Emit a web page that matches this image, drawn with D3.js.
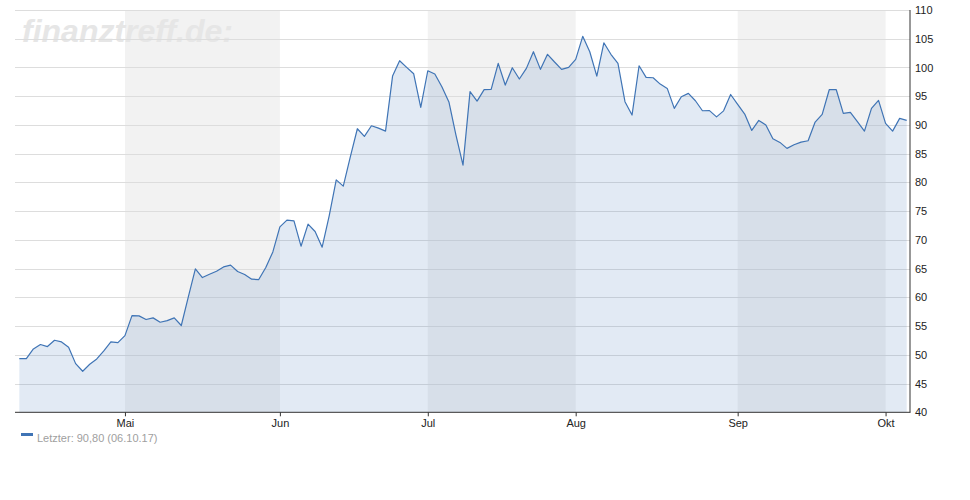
<!DOCTYPE html>
<html>
<head>
<meta charset="utf-8">
<script src="https://cdn.jsdelivr.net/npm/d3@7"></script>
<style>
  html, body { margin: 0; padding: 0; background: #fff; }
  svg { display: block; font-family: Arial, "Liberation Sans", sans-serif; }
</style>
</head>
<body>
<svg id="chart" width="970" height="500"></svg>
<script>
// ---- data ----
const startDate = "2017-04-06";
const endDate = "2017-10-06";
const holidays = ["2017-04-14", "2017-04-17", "2017-05-01", "2017-06-05", "2017-10-03"];
const monthNames = ["Jan","Feb","Mär","Apr","Mai","Jun","Jul","Aug","Sep","Okt","Nov","Dez"];
const yTicks = [40,45,50,55,60,65,70,75,80,85,90,95,100,105,110];
const values = [
  49.35, 49.35, 51.03, 51.8, 51.44, 52.54, 52.25, 51.32, 48.47, 47.14,
  48.36, 49.28, 50.68, 52.25, 52.13, 53.35, 56.83, 56.78, 56.14, 56.43,
  55.67, 55.96, 56.43, 55.1, 60.07, 64.96, 63.45, 64.03, 64.55, 65.3,
  65.6, 64.49, 63.98, 63.16, 63.1, 65.2, 67.9, 72.27, 73.43, 73.32,
  68.9, 72.74, 71.46, 68.73, 74.18, 80.45, 79.35, 84.46, 89.34, 88.0,
  89.86, 89.45, 88.93, 98.5, 101.17, 100.02, 98.9, 93.05, 99.43, 98.86,
  96.65, 94.0, 88.23, 83.01, 95.8, 94.15, 96.15, 96.19, 100.72, 96.94,
  99.96, 97.99, 99.84, 102.74, 99.67, 102.29, 100.95, 99.67, 100.02, 101.41,
  105.42, 102.74, 98.5, 104.3, 102.29, 100.72, 94.04, 91.72, 100.3, 98.27,
  98.21, 97.11, 96.36, 92.88, 94.9, 95.49, 94.21, 92.47, 92.5, 91.4,
  92.45, 95.3, 93.58, 91.89, 89.05, 90.79, 89.98, 87.6, 86.96, 85.92,
  86.55, 87.02, 87.25, 90.5, 91.84, 96.13, 96.13, 92.0, 92.19, 90.56,
  88.93, 92.88, 94.28, 90.27, 88.93, 91.14, 90.80
];
const lastLabel = "Letzter: 90,80 (06.10.17)";
const logoText = "finanztreff.de:";

// trading days (weekdays minus exchange holidays)
const fmt = d3.utcFormat("%Y-%m-%d");
const dates = d3.utcDays(new Date(startDate), d3.utcDay.offset(new Date(endDate), 1))
  .filter(d => d.getUTCDay() !== 0 && d.getUTCDay() !== 6 && !holidays.includes(fmt(d)));

// ---- layout ----
const svg = d3.select("#chart");
const plot = { left: 15, right: 910, top: 10, bottom: 412.3 };

const x = d3.scaleLinear().domain([0, values.length - 1]).range([19.3, 906.7]);
const y = d3.scaleLinear().domain([40, 110]).range([plot.bottom, plot.top]);

// month starts (first trading day of each month, after the first point)
const monthStarts = [];
dates.forEach((d, i) => {
  if (i > 0 && d.getUTCMonth() !== dates[i - 1].getUTCMonth()) monthStarts.push({ i, m: d.getUTCMonth() });
});

// alternating month bands
monthStarts.forEach((ms, k) => {
  if (ms.m % 2 === 0) {
    const next = monthStarts[k + 1];
    const x0 = x(ms.i);
    const x1 = next ? x(next.i) : plot.right;
    svg.append("rect")
      .attr("x", x0).attr("y", plot.top)
      .attr("width", x1 - x0).attr("height", plot.bottom - plot.top)
      .attr("fill", "#f2f2f2");
  }
});

// watermark logo
svg.append("text")
  .attr("x", 22).attr("y", 42)
  .attr("font-size", 32).attr("font-weight", "bold").attr("font-style", "italic")
  .attr("fill", "#e6e6e6")
  .text(logoText);

// horizontal grid
svg.append("g").selectAll("line")
  .data(yTicks.filter(t => t > 40))
  .join("line")
  .attr("x1", plot.left).attr("x2", plot.right)
  .attr("y1", d => Math.round(y(d)) + 0.5).attr("y2", d => Math.round(y(d)) + 0.5)
  .attr("stroke", "#dddddd").attr("stroke-width", 1);

// area + line
const area = d3.area().x((d, i) => x(i)).y0(y(40)).y1(d => y(d));
const line = d3.line().x((d, i) => x(i)).y(d => y(d));
svg.append("path").datum(values).attr("d", area)
  .attr("fill", "rgba(61,115,180,0.15)");
svg.append("path").datum(values).attr("d", line)
  .attr("fill", "none").attr("stroke", "#3f74b5").attr("stroke-width", 1.2)
  .attr("stroke-linejoin", "round");

// y axis (right)
const yAxis = d3.axisRight(y).tickValues(yTicks).tickSize(0).tickPadding(5).tickFormat(d3.format("d"));
const gy = svg.append("g").attr("transform", `translate(${plot.right},0)`).call(yAxis);
gy.select(".domain").remove();
gy.selectAll("text").attr("font-size", 11).attr("fill", "#222").attr("font-family", "Arial, 'Liberation Sans', sans-serif");

// x axis (bottom)
const xAxis = d3.axisBottom(x).tickValues(monthStarts.map(m => m.i))
  .tickFormat(i => monthNames[dates[i].getUTCMonth()])
  .tickSizeInner(4).tickSizeOuter(0).tickPadding(3);
const gx = svg.append("g").attr("transform", `translate(0,${plot.bottom})`).call(xAxis);
gx.select(".domain").remove();
gx.selectAll(".tick line").attr("stroke", "#333");
gx.selectAll("text").attr("font-size", 11).attr("fill", "#222").attr("font-family", "Arial, 'Liberation Sans', sans-serif");

// axis lines
svg.append("line").attr("x1", plot.left).attr("x2", plot.right + 0.5)
  .attr("y1", plot.bottom).attr("y2", plot.bottom).attr("stroke", "#333").attr("stroke-width", 1);
svg.append("line").attr("x1", plot.right).attr("x2", plot.right)
  .attr("y1", plot.top).attr("y2", plot.bottom).attr("stroke", "#333").attr("stroke-width", 1);

// legend
svg.append("rect").attr("x", 21).attr("y", 433).attr("width", 12).attr("height", 3).attr("fill", "#3f74b5");
svg.append("text").attr("x", 37).attr("y", 442)
  .attr("font-size", 11).attr("fill", "#a0a0a0").text(lastLabel);
</script>
</body>
</html>
